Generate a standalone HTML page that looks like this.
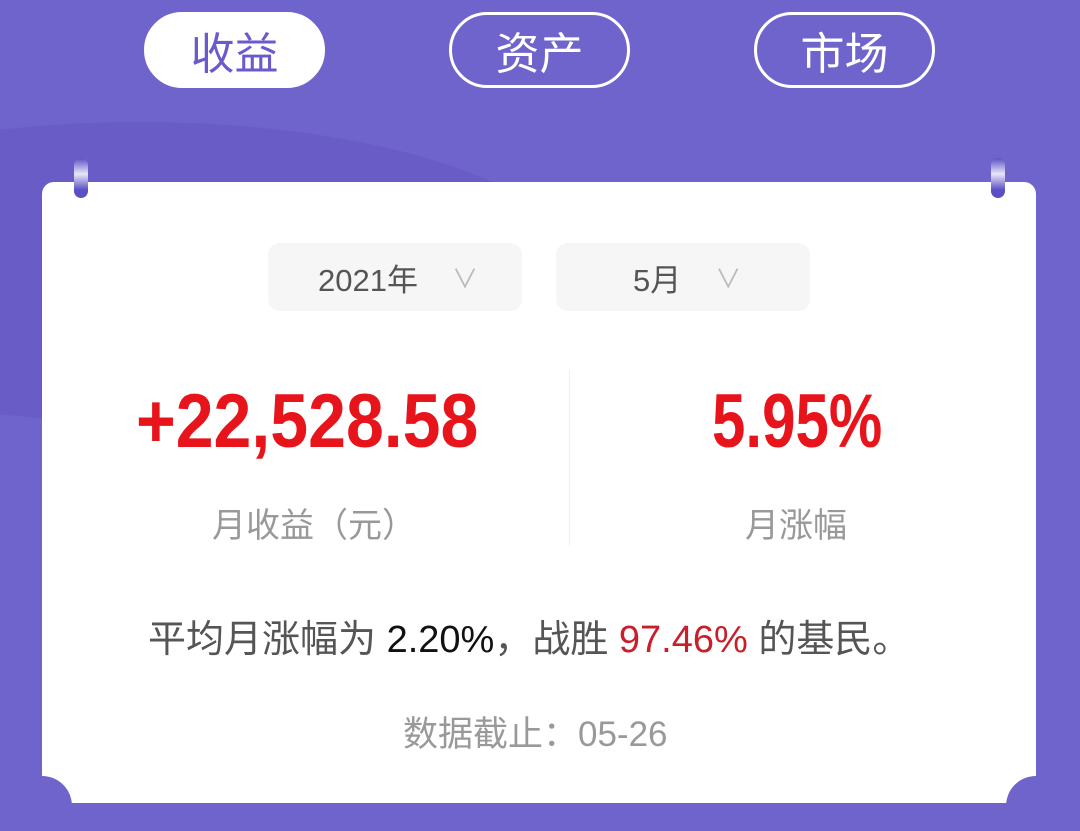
<!DOCTYPE html>
<html><head><meta charset="utf-8">
<style>
*{margin:0;padding:0;box-sizing:border-box}
html,body{width:1080px;height:831px;overflow:hidden}
body{background:#6f63cc;font-family:"Liberation Sans","Noto Sans CJK SC",sans-serif;position:relative}
.abs{position:absolute}
.tab{position:absolute;top:12px;width:181px;height:76px;border-radius:38px;border:3px solid #fff;color:#fff;font-size:44px;display:flex;align-items:center;justify-content:center}
.card{position:absolute;left:42px;top:182px;width:994px;height:621px;background:#fff;border-radius:12px 12px 0 0;overflow:hidden}
.notch{position:absolute;width:60px;height:60px;border-radius:50%;background:#6f63cc;top:594px}
.dd{position:absolute;top:243px;width:254px;height:68px;background:#f6f6f7;border-radius:12px;color:#555;font-size:31px;display:flex;align-items:center}
.pin{position:absolute;width:14px;height:40px;border-radius:7px;background:linear-gradient(#5b4fc4,#e8e6f8 40%,#5b4fc4 80%)}
</style></head><body>
<div class="abs" style="left:0;top:0;width:1080px;height:831px;overflow:hidden">
<div class="abs" style="left:-300px;top:122px;width:880px;height:300px;border-radius:50%;background:#6559c2;opacity:.6"></div>
</div>
<div class="tab" style="left:144px;background:#fff;color:#6a5acd;border-color:#fff">收益</div>
<div class="tab" style="left:449px">资产</div>
<div class="tab" style="left:754px">市场</div>
<div class="card">
  <div class="notch" style="left:-30px"></div>
  <div class="notch" style="left:964px"></div>
</div>
<div class="pin" style="left:74px;top:158px"></div>
<div class="pin" style="left:991px;top:158px"></div>
<div class="dd" style="left:268px"><span style="margin-left:50px">2021年</span><span style="margin-left:34px;color:#bbb;font-size:26px">∨</span></div>
<div class="dd" style="left:556px"><span style="margin-left:77px">5月</span><span style="margin-left:34px;color:#bbb;font-size:26px">∨</span></div>
<div class="abs" style="left:136px;top:382px;width:342px;color:#e8141c;font-size:76px;font-weight:bold;line-height:80px;white-space:nowrap"><span style="display:inline-block;transform:scaleX(.895);transform-origin:left">+22,528.58</span></div>
<div class="abs" style="left:712px;top:382px;color:#e8141c;font-size:76px;font-weight:bold;line-height:80px;white-space:nowrap"><span style="display:inline-block;transform:scaleX(.79);transform-origin:left">5.95%</span></div>
<div class="abs" style="left:212px;top:498px;color:#999;font-size:34px;white-space:nowrap">月收益（元）</div>
<div class="abs" style="left:745px;top:498px;color:#999;font-size:34px">月涨幅</div>
<div class="abs" style="left:569px;top:370px;width:1px;height:175px;background:#eee"></div>
<div class="abs" style="left:148px;top:608px;color:#555;font-size:38px;white-space:nowrap">平均月涨幅为 <span style="color:#111">2.20%</span>，战胜 <span style="color:#c8202a">97.46%</span> 的基民。</div>
<div class="abs" style="left:403px;top:706px;color:#999;font-size:35px;white-space:nowrap">数据截止：05-26</div>
</body></html>
